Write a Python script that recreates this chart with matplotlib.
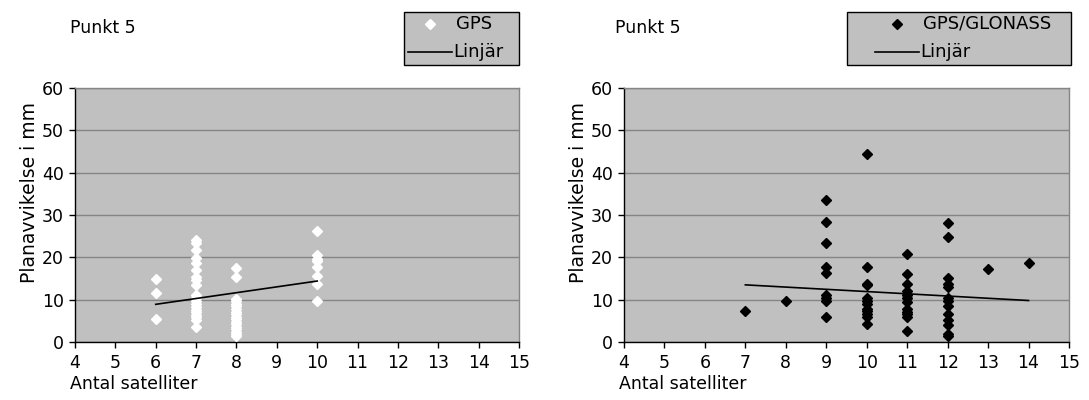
import matplotlib
matplotlib.use("Agg")
import matplotlib.pyplot as plt
from matplotlib.lines import Line2D
from matplotlib.patches import Rectangle

# ---- Data: left chart (GPS) ----
gps_x = [6, 6, 6,
         7, 7, 7, 7, 7, 7, 7, 7, 7, 7, 7, 7, 7, 7, 7, 7, 7, 7, 7, 7,
         8, 8, 8, 8, 8, 8, 8, 8, 8, 8, 8, 8, 8, 8, 8, 8, 8, 8,
         10, 10, 10, 10, 10, 10, 10, 10]
gps_y = [15.0, 11.5, 5.5,
         24.0, 23.3, 21.7, 19.8, 18.7, 17.0, 15.4, 14.6, 13.4, 11.0, 10.3, 9.6, 9.0, 8.3, 7.6, 7.0, 6.4, 5.8, 5.3, 3.6,
         17.4, 15.3, 10.2, 9.6, 9.0, 8.4, 7.8, 7.2, 6.6, 6.0, 5.4, 4.8, 4.2, 3.6, 3.0, 2.4, 1.8, 1.3,
         26.3, 20.5, 19.7, 19.2, 17.8, 15.6, 13.8, 9.6]
gps_trend_x = [6, 10]
gps_trend_y = [8.9, 14.4]

# ---- Data: right chart (GPS/GLONASS) ----
glo_x = [7, 8,
         9, 9, 9, 9, 9, 9, 9, 9, 9,
         10, 10, 10, 10, 10, 10, 10, 10, 10, 10, 10, 10,
         11, 11, 11, 11, 11, 11, 11, 11, 11, 11, 11, 11,
         12, 12, 12, 12, 12, 12, 12, 12, 12, 12, 12, 12, 12,
         13, 14]
glo_y = [7.4, 9.7,
         33.6, 28.4, 23.3, 17.7, 16.3, 11.0, 10.3, 9.6, 5.8,
         44.3, 17.6, 13.8, 13.4, 10.3, 9.6, 8.9, 7.9, 7.3, 6.7, 5.8, 4.2,
         20.8, 16.0, 13.7, 12.1, 11.0, 10.3, 9.5, 7.7, 7.1, 6.7, 5.9, 2.5,
         28.1, 24.8, 15.1, 13.8, 12.9, 10.3, 9.6, 8.5, 6.7, 5.1, 3.9, 2.0, 1.4,
         17.3, 18.6]
glo_trend_x = [7, 14]
glo_trend_y = [13.5, 9.8]

x_ticks = list(range(4, 16))
y_ticks = list(range(0, 61, 10))

BG = "#c0c0c0"
GRID = "#858585"
FS = 12.5

W, H = 1089, 400
fig = plt.figure(figsize=(W / 100, H / 100), dpi=100)
fig.patch.set_facecolor("white")

def setup(ax):
    ax.set_facecolor(BG)
    ax.set_xlim(4, 15)
    ax.set_ylim(0, 60)
    ax.set_xticks(x_ticks)
    ax.set_yticks(y_ticks)
    ax.yaxis.grid(True, color=GRID, linewidth=1.0)
    ax.set_axisbelow(True)
    for s in ["top", "right"]:
        ax.spines[s].set_color(GRID)
        ax.spines[s].set_linewidth(1.0)
    for s in ["left", "bottom"]:
        ax.spines[s].set_color("black")
        ax.spines[s].set_linewidth(1.0)
    ax.tick_params(direction="out", length=4, width=1, labelsize=FS, colors="black")
    ax.tick_params(axis="x", pad=5)
    ax.tick_params(axis="y", pad=4)
    ax.set_ylabel("Planavvikelse i mm", fontsize=13.5)
    ax.yaxis.set_label_coords(-0.081, 0.59)
    ax.set_xlabel("Antal satelliter", fontsize=FS)
    ax.xaxis.set_label_coords(-0.012, -0.165)
    ax.xaxis.label.set_horizontalalignment("left")
    ax.xaxis.label.set_verticalalignment("center")

ax1 = fig.add_axes([75 / W, 58 / H, 444 / W, 254 / H])
setup(ax1)
ax1.plot(gps_x, gps_y, linestyle="none", marker="D", markersize=5,
         color="white", markeredgecolor="white", label="GPS", zorder=3)
ax1.plot(gps_trend_x, gps_trend_y, color="black", linewidth=1.2, label="Linjär", zorder=4)

ax2 = fig.add_axes([624 / W, 58 / H, 445 / W, 254 / H])
setup(ax2)
ax2.plot(glo_x, glo_y, linestyle="none", marker="D", markersize=5,
         color="black", label="GPS/GLONASS", zorder=3)
ax2.plot(glo_trend_x, glo_trend_y, color="black", linewidth=1.2, label="Linjär", zorder=4)

fig.text(70 / W, 1 - 28 / H, "Punkt 5", fontsize=FS, va="center", ha="left")
fig.text(615 / W, 1 - 28 / H, "Punkt 5", fontsize=FS, va="center", ha="left")

def px(x, y):
    return x / W, 1 - y / H

def legend_box(ax, box_x0, box_x1, line_x0, line_x1):
    """Excel-style legend box built from the axes' own handles and labels."""
    handles, labels = ax.get_legend_handles_labels()
    top, bot = 12, 65
    fig.add_artist(Rectangle(px(box_x0, bot), (box_x1 - box_x0) / W, (bot - top) / H,
                             transform=fig.transFigure, facecolor=BG,
                             edgecolor="black", linewidth=1.0, zorder=5))
    rows = [24, 52]
    for h, lab, ry in zip(handles, labels, rows):
        xs = [line_x0 / W, line_x1 / W]
        yy = [1 - ry / H, 1 - ry / H]
        if h.get_linestyle() not in ("None", "none", ""):
            fig.add_artist(Line2D(xs, yy, transform=fig.transFigure,
                                  color=h.get_color(), linewidth=h.get_linewidth(), zorder=6))
            tx = line_x1 + 1
        else:
            fig.add_artist(Line2D([sum(xs) / 2], [yy[0]], transform=fig.transFigure,
                                  linestyle="none", marker=h.get_marker(),
                                  markersize=h.get_markersize(),
                                  color=h.get_color(),
                                  markeredgecolor=h.get_markeredgecolor(), zorder=6))
            tx = line_x1 + 4
        fig.text(tx / W, 1 - ry / H, lab, fontsize=13, va="center", ha="left", zorder=7)

legend_box(ax1, 404, 519, 408, 452)
legend_box(ax2, 847, 1071, 875, 919)

fig.savefig("out.png", dpi=100, facecolor="white")
